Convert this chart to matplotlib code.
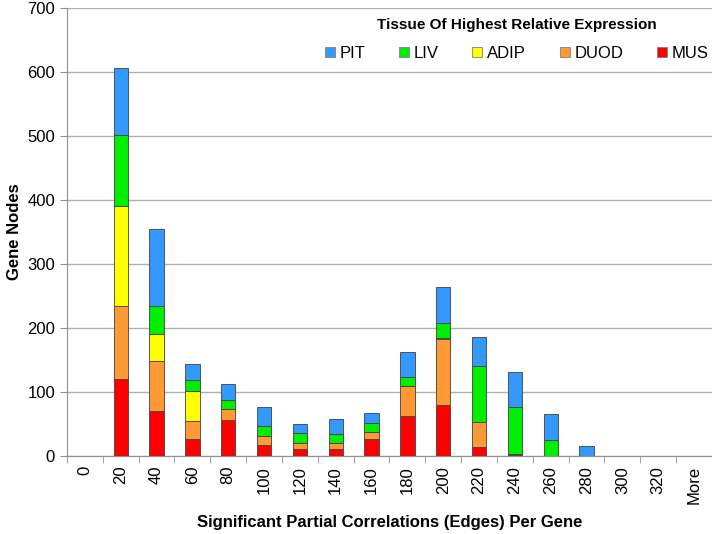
import matplotlib
matplotlib.use("Agg")
import matplotlib.pyplot as plt
import numpy as np

plt.rcParams['font.family'] = ['Liberation Sans', 'DejaVu Sans']

bins = ['0', '20', '40', '60', '80', '100', '120', '140', '160', '180',
        '200', '220', '240', '260', '280', '300', '320', 'More']

# stacked from the bottom up
mus = [0, 121, 71, 27, 57, 17, 11, 11, 26, 62, 80, 14, 1, 0, 0, 0, 0, 0]
duod = [0, 113, 78, 28, 16, 15, 10, 10, 12, 47, 103, 39, 2, 0, 0, 0, 0, 0]
adip = [0, 156, 42, 47, 0, 0, 0, 0, 0, 0, 2, 0, 0, 0, 0, 0, 0, 0]
liv = [0, 112, 44, 17, 15, 15, 15, 13, 13, 15, 23, 88, 73, 25, 0, 0, 0, 0]
pit = [0, 105, 120, 25, 25, 30, 14, 24, 16, 38, 56, 45, 55, 40, 16, 0, 0, 0]

series = [('MUS', mus, '#ff0000'),
          ('DUOD', duod, '#ff9933'),
          ('ADIP', adip, '#ffff00'),
          ('LIV', liv, '#00ee00'),
          ('PIT', pit, '#3399ff')]

fig = plt.figure(figsize=(7.12, 5.34), dpi=100)
ax = fig.add_axes([0.094, 0.146, 0.906, 0.839])

x = np.arange(len(bins))
bottom = np.zeros(len(bins))
handles = {}
for name, vals, col in series:
    vals = np.array(vals)
    b = ax.bar(x, vals, 0.4, bottom=bottom, color=col, edgecolor='#404040',
               linewidth=0.6, zorder=3)
    handles[name] = b
    bottom += vals

ax.set_xlim(-0.5, len(bins) - 0.5)
ax.set_ylim(0, 700)
ax.set_yticks(range(0, 701, 100))
ax.yaxis.grid(True, color='#b0b0b0', linewidth=1, zorder=0)
ax.set_axisbelow(True)

ax.set_xticks(x)
ax.set_xticklabels(bins, rotation=90, fontsize=12)
ax.set_xticks(np.arange(-0.5, len(bins), 1), minor=True)
ax.tick_params(axis='x', which='major', length=0, pad=7)
ax.tick_params(axis='x', which='minor', length=5, color='#909090')
ax.tick_params(axis='y', labelsize=12, length=5, color='#909090')

for s in ['top', 'right']:
    ax.spines[s].set_visible(False)
ax.spines['left'].set_color('#909090')
ax.spines['bottom'].set_color('#909090')

ax.set_ylabel('Gene Nodes', fontsize=12, fontweight='bold')
ax.set_xlabel('Significant Partial Correlations (Edges) Per Gene',
              fontsize=12, fontweight='bold', labelpad=8)

order = ['PIT', 'LIV', 'ADIP', 'DUOD', 'MUS']
leg = ax.legend([handles[n] for n in order], order, ncol=5, loc='upper right',
                bbox_to_anchor=(1.0, 0.985), frameon=True, fontsize=12,
                title='Tissue Of Highest Relative Expression',
                handlelength=0.6, handleheight=0.6, handletextpad=0.3,
                columnspacing=2.0, borderaxespad=0.0, borderpad=0.2)
leg._legend_box.sep = 10
leg.get_frame().set_edgecolor('none')
leg.get_frame().set_facecolor('white')
leg.get_frame().set_alpha(1)
leg.get_title().set_fontweight('bold')
leg.get_title().set_fontsize(11)
for h in leg.legend_handles:
    h.set_edgecolor('#808080')

plt.savefig('out.png', dpi=100)
